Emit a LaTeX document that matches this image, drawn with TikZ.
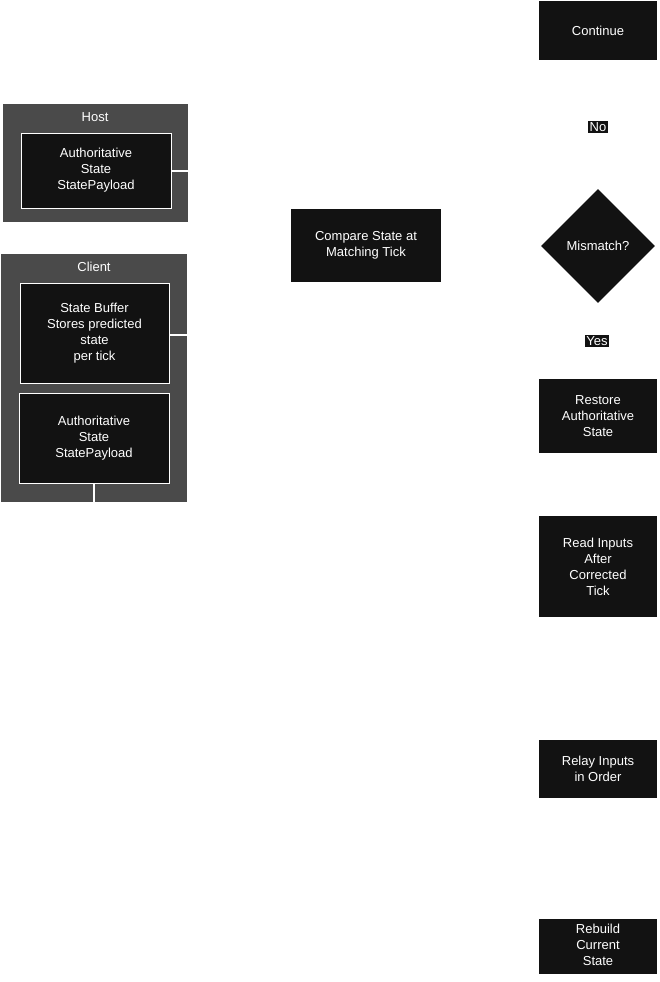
\documentclass[tikz,border=0pt]{standalone}
\usepackage{fontspec}
\setmainfont{Liberation Sans}
\usetikzlibrary{shapes.geometric}
\begin{document}
\begin{tikzpicture}[x=1pt,y=-1pt,
  cl/.style={fill=black!71,draw=none},
  bx/.style={fill=black!93,draw=white,line width=0.7pt,text=white,align=center,font=\fontsize{13}{16}\selectfont},
  nd/.style={fill=black!93,draw=none,text=white,align=center,font=\fontsize{13}{16}\selectfont},
  lbl/.style={fill=black!93,text=white,inner sep=1.5pt,font=\fontsize{13}{16}\selectfont},
  ln/.style={draw=white,line width=2pt}]
\useasboundingbox (0,0) rectangle (659,982);
\fill[white] (0,0) rectangle (659,982);
% clusters
\path[cl] (3,104) rectangle (188,222);
\node[text=white,font=\fontsize{13}{16}\selectfont] (hostt) at (95,117) {Host};
\node[bx,minimum width=150,minimum height=75,inner sep=0] (has) at (96,170.5) {Authoritative\\State\\StatePayload};
\path[cl] (1,254) rectangle (187,502);
\node[text=white,font=\fontsize{13}{16}\selectfont] (clt) at (94,267) {Client};
\node[bx,minimum width=149,minimum height=100,inner sep=0] (sb) at (94.5,333) {State Buffer\\Stores predicted\\state\\per tick};
\node[bx,minimum width=150,minimum height=90,inner sep=0] (cas) at (94,438) {Authoritative\\State\\StatePayload};
\coordinate (h1) at (188,171);
\coordinate (c1) at (187,335);
\coordinate (c2) at (94,502);
\draw[ln] (has.east |- h1) -- (h1);
\draw[ln] (sb.east |- c1) -- (c1);
\draw[ln] (cas.south -| c2) -- (c2);
% main flow
\node[nd,minimum width=150,minimum height=73,inner sep=0] (cmp) at (366,245.5) {Compare State at\\Matching Tick};
\node[nd,minimum width=118,minimum height=59,inner sep=0] (cont) at (598,30.5) {Continue};
\node[lbl] (no) at (598,127) {No};
\node[diamond,fill=black!93,text=white,minimum width=114,minimum height=114,inner sep=0,font=\fontsize{13}{16}\selectfont] (mm) at (598,246) {Mismatch?};
\node[lbl] (yes) at (597,341) {Yes};
\node[nd,minimum width=118,minimum height=74,inner sep=0] (rest) at (598,416) {Restore\\Authoritative\\State};
\node[nd,minimum width=118,minimum height=101,inner sep=0] (read) at (598,566.5) {Read Inputs\\After\\Corrected\\Tick};
\node[nd,minimum width=118,minimum height=58,inner sep=0] (relay) at (598,769) {Relay Inputs\\in Order};
\begin{scope}
\clip (539,919) rectangle (657,977);
\node[nd,minimum width=118,minimum height=58,inner sep=0,text depth=0pt] (reb) at (598,945) {Rebuild\\Current\\State};
\end{scope}
\end{tikzpicture}
\end{document}
